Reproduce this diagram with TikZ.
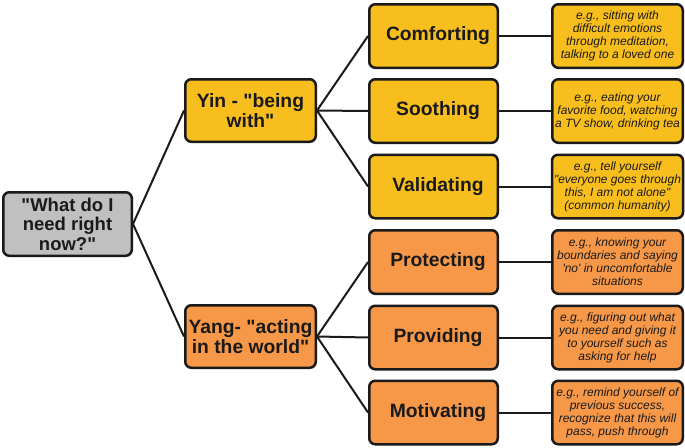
\documentclass[tikz,border=0pt]{standalone}
\usepackage{fontspec}
\newfontfamily\lsans{Liberation Sans}
\newcommand\mtxt[1]{\hspace*{9pt}#1}
\definecolor{yinc}{RGB}{248,190,30}
\definecolor{yangc}{RGB}{246,152,72}
\definecolor{rootc}{RGB}{192,192,192}
\definecolor{ink}{RGB}{26,26,26}
\begin{document}
\begin{tikzpicture}[x=1pt,y=-1pt,
  box/.style={draw=ink,line width=2.5pt,rounded corners=6pt,align=center,text=ink,inner sep=2pt},
  bigtxt/.style={font=\lsans\fontsize{19.3}{20}\selectfont\bfseries},
  mid/.style={box,bigtxt,minimum width=128.5pt,minimum height=63.5pt},
  ex/.style={box,font=\lsans\fontsize{12}{13}\selectfont\itshape,minimum width=130.5pt,minimum height=63.5pt},
  conn/.style={draw=ink,line width=2pt}]
\useasboundingbox (0,0) rectangle (685,447);
\node[box,bigtxt,fill=rootc,minimum width=128.5pt,minimum height=63.5pt,font=\lsans\fontsize{18.5}{19.5}\selectfont\bfseries] (root) at (67.5,224) {"What do I\\need right\\now?"};
\node[mid,fill=yinc,minimum width=130.5pt,minimum height=62.5pt] (yin) at (250.5,110.5) {Yin - "being\\with"};
\node[mid,fill=yangc,minimum width=130.5pt,minimum height=62.5pt] (yang) at (250.5,336.5) {Yang- "acting\\in the world"};
\node[mid,fill=yinc] (m1) at (433.5,36) {\mtxt{Comforting}};
\node[mid,fill=yinc] (m2) at (433.5,111) {\mtxt{Soothing}};
\node[mid,fill=yinc] (m3) at (433.5,186.5) {\mtxt{Validating}};
\node[mid,fill=yangc] (m4) at (433.5,262) {\mtxt{Protecting}};
\node[mid,fill=yangc] (m5) at (433.5,337.5) {\mtxt{Providing}};
\node[mid,fill=yangc] (m6) at (433.5,412.5) {\mtxt{Motivating}};
\node[ex,fill=yinc] (e1) at (617.5,36) {e.g., sitting with\\difficult emotions\\through meditation,\\talking to a loved one};
\node[ex,fill=yinc] (e2) at (617.5,111) {e.g., eating your\\favorite food, watching\\a TV show, drinking tea};
\node[ex,fill=yinc] (e3) at (617.5,186.5) {e.g., tell yourself\\"everyone goes through\\this, I am not alone"\\(common humanity)};
\node[ex,fill=yangc] (e4) at (617.5,262) {e.g., knowing your\\boundaries and saying\\'no' in uncomfortable\\situations};
\node[ex,fill=yangc] (e5) at (617.5,337.5) {e.g., figuring out what\\you need and giving it\\to yourself such as\\asking for help};
\node[ex,fill=yangc] (e6) at (617.5,412.5) {e.g., remind yourself of\\previous success,\\recognize that this will\\pass, push through};
\draw[conn] (root.east) -- (yin.west);
\draw[conn] (root.east) -- (yang.west);
\foreach \m in {m1,m2,m3} \draw[conn] (yin.east) -- (\m.west);
\foreach \m in {m4,m5,m6} \draw[conn] (yang.east) -- (\m.west);
\foreach \i in {1,...,6} \draw[conn] (m\i.east) -- (e\i.west);
\end{tikzpicture}
\end{document}
